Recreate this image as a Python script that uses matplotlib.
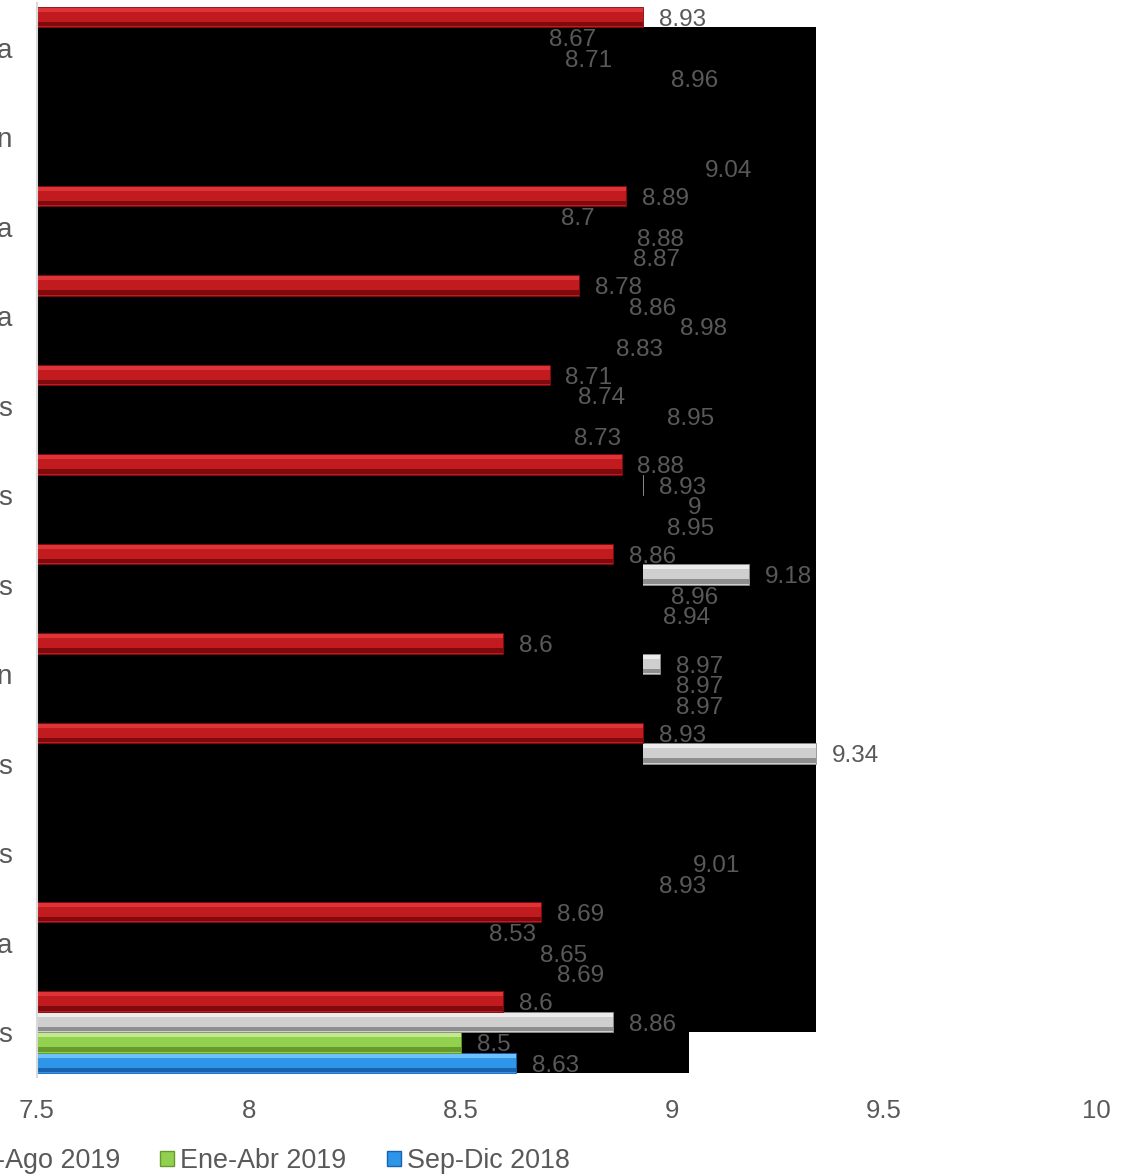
import numpy as np
import matplotlib
matplotlib.use("Agg")
import matplotlib.pyplot as plt
from matplotlib.patches import Rectangle, Patch

plt.rcParams['font.family'] = ['Liberation Sans', 'DejaVu Sans']

# --- data (top row first); only the last letter of each category is visible ---
categories = ['a', 'n', 'a', 'a', 's', 's', 's', 'n', 's', 's', 'a', 's']
series_names = ['Sep-Dic 2019', 'May-Ago 2019', 'Ene-Abr 2019', 'Sep-Dic 2018']
nan = np.nan
red_vals = [8.93, nan, 8.89, 8.78, 8.71, 8.88, 8.86, 8.6, 8.93, nan, 8.69, 8.6]
grey_vals = [8.67, nan, 8.7, 8.86, 8.74, 8.93, 9.18, 8.97, 9.34, nan, 8.53, 8.86]
green_vals = [8.71, nan, 8.88, 8.98, 8.95, 9.0, 8.96, 8.97, nan, 9.01, 8.65, 8.5]
blue_vals = [8.96, 9.04, 8.87, 8.83, 8.73, 8.95, 8.94, 8.97, nan, 8.93, 8.69, 8.63]
x_ticks = [7.5, 8, 8.5, 9, 9.5, 10]

# colours: main, light bevel, dark bevel
palette = {
    'red': ('#c11a1f', '#de3438', '#7e0a0d'),
    'grey': ('#cfcfcf', '#ececec', '#8e8e8e'),
    'green': ('#92d050', '#c2ea8a', '#679a2c'),
    'blue': ('#2e95e8', '#6fc0ff', '#1763b0'),
}
LABEL_COL = '#595959'

fig = plt.figure(figsize=(11.31, 11.75), dpi=100)
ax = fig.add_axes([0.0327, 0.0834, 0.9363, 0.914])

y = np.arange(len(categories))
h = 0.229
offs = [-1.5 * h, -0.5 * h, 0.5 * h, 1.5 * h]


def bevel_bars(vals, off, key, z):
    main, light, dark = palette[key]
    v = np.array(vals, dtype=float)
    ax.barh(y + off, v, height=h, color=main, edgecolor=dark, linewidth=0.6, zorder=z)
    ax.barh(y + off - h * 0.36, v, height=h * 0.2, color=light, linewidth=0, zorder=z + 0.05)
    ax.barh(y + off + h * 0.34, v, height=h * 0.24, color=dark, linewidth=0, zorder=z + 0.05)
    for yy, val in zip(y + off, v):
        if np.isnan(val):
            continue
        ax.annotate(f'{val:g}', (val, yy), xytext=(11.5, -2), textcoords='offset points',
                    va='center', ha='left', fontsize=17.5, color=LABEL_COL, zorder=20,
                    annotation_clip=False)


# draw order reproduces the black rendering artefact of the source chart
bevel_bars(blue_vals, offs[3], 'blue', 1)
bevel_bars(green_vals, offs[2], 'green', 1)
bevel_bars(grey_vals, offs[1], 'grey', 3)
bevel_bars(red_vals, offs[0], 'red', 5)

last = y[-1]
top = y[0] + offs[1] - h / 2
ax.add_patch(Rectangle((7.5, top), np.nanmax(grey_vals) - 7.5, (last + offs[1] + h / 2) - top,
                       facecolor='black', linewidth=0, zorder=2))
ax.add_patch(Rectangle((7.5, top), np.nanmax(red_vals) - 7.5, (last + offs[1] - h / 2) - top,
                       facecolor='black', linewidth=0, zorder=4))
ax.add_patch(Rectangle((7.5, last + offs[2] - h / 2), np.nanmax(blue_vals) - 7.5, 2 * h,
                       facecolor='black', linewidth=0, zorder=0.5))

ax.set_xlim(7.5, 10)
ax.set_ylim(len(categories) - 0.5, -0.5)
ax.set_xticks(x_ticks)
ax.set_xticklabels([f'{t:g}' for t in x_ticks])
ax.set_yticks(y)
ax.set_yticklabels(categories)
ax.tick_params(axis='x', length=0, pad=16, labelsize=18.5, labelcolor=LABEL_COL)
ax.tick_params(axis='y', length=0, pad=18, labelsize=20, labelcolor=LABEL_COL)
for s in ['top', 'right', 'bottom']:
    ax.spines[s].set_visible(False)
ax.spines['left'].set_color('#d9d9d9')
ax.spines['left'].set_linewidth(1.5)
ax.spines['left'].set_zorder(6)

handles = [Patch(facecolor=palette[k][0], edgecolor=palette[k][2]) for k in ['red', 'grey', 'green', 'blue']]
fig.legend(handles, series_names, loc='center right', bbox_to_anchor=(0.516, 0.0119), ncol=4,
           frameon=False, fontsize=19.4, handlelength=0.5, handleheight=0.5, handletextpad=0.25,
           columnspacing=1.5, borderpad=0, labelcolor=LABEL_COL)

fig.savefig('out.png', dpi=100)
